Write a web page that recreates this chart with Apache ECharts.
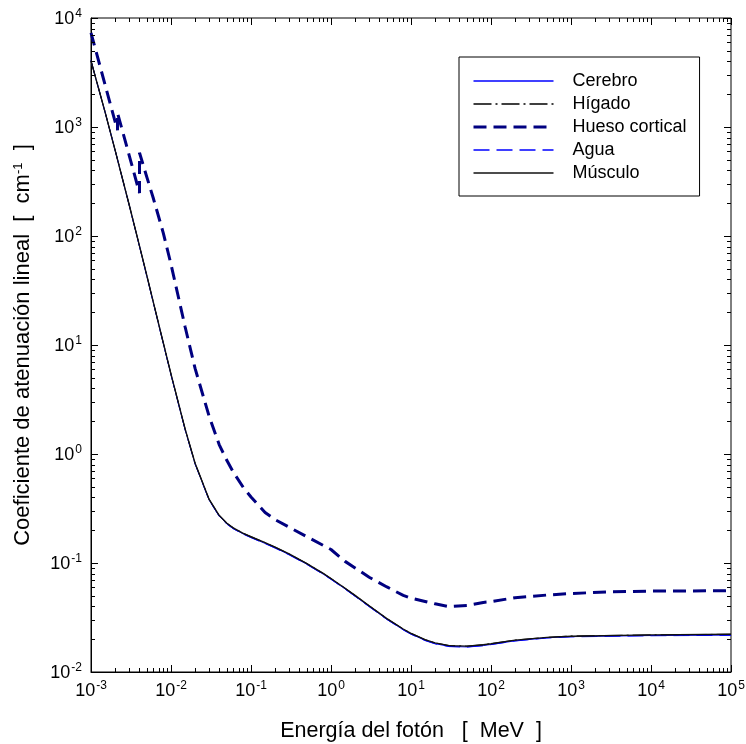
<!DOCTYPE html>
<html><head><meta charset="utf-8">
<script src="https://cdn.jsdelivr.net/npm/echarts@6/dist/echarts.min.js"></script>
<style>html,body{margin:0;padding:0;background:#fff}#c{width:746px;height:744px}</style>
</head><body><div id="c"></div>
<script>
// Photon energy (MeV) for soft tissues
const energiaTejidos = [0.001, 0.0015, 0.002, 0.003, 0.004, 0.005, 0.006, 0.008, 0.01, 0.015, 0.02, 0.03, 0.04, 0.05, 0.06, 0.08, 0.1, 0.15, 0.2, 0.3, 0.5, 0.8, 1, 1.5, 2, 3, 5, 8, 10, 15, 20, 30, 50, 80, 100, 200, 500, 1000, 10000, 100000];
const cerebro = [4010, 1360, 611, 192.0, 82.5, 42.5, 24.6, 10.38, 5.33, 1.675, 0.812, 0.3770, 0.2695, 0.2280, 0.2068, 0.1846, 0.1715, 0.1512, 0.1376, 0.1192, 0.0973, 0.0790, 0.0710, 0.0578, 0.0496, 0.0399, 0.0304, 0.0244, 0.0223, 0.0195, 0.0182, 0.01716, 0.01698, 0.01748, 0.01789, 0.01931, 0.0206, 0.0211, 0.0216, 0.0218];
const higado = [4065, 1372, 616, 194.0, 83.6, 43.2, 25.0, 10.55, 5.42, 1.71, 0.826, 0.3840, 0.2745, 0.2320, 0.2104, 0.1877, 0.1744, 0.1538, 0.1400, 0.1212, 0.0990, 0.0803, 0.0722, 0.0588, 0.0505, 0.0406, 0.0310, 0.0248, 0.0227, 0.0198, 0.0185, 0.01747, 0.01728, 0.01779, 0.01820, 0.01963, 0.0208, 0.0214, 0.0219, 0.0222];
const agua = [4078, 1376, 617.3, 192.9, 82.78, 42.58, 24.64, 10.37, 5.329, 1.673, 0.8096, 0.3756, 0.2683, 0.2269, 0.2059, 0.1837, 0.1707, 0.1505, 0.1370, 0.1186, 0.09687, 0.07865, 0.07072, 0.05754, 0.04942, 0.03969, 0.03031, 0.02429, 0.02219, 0.01941, 0.01813, 0.01710, 0.01692, 0.01742, 0.01783, 0.01925, 0.0205, 0.0210, 0.0215, 0.0217];
const musculo = [4040, 1368, 614, 193.5, 83.3, 43.0, 24.9, 10.5, 5.40, 1.70, 0.823, 0.3830, 0.2740, 0.2315, 0.2100, 0.1874, 0.1741, 0.1535, 0.1397, 0.1210, 0.0988, 0.0802, 0.0721, 0.0587, 0.0504, 0.0405, 0.0309, 0.0248, 0.0226, 0.0198, 0.0185, 0.01745, 0.01726, 0.01777, 0.01818, 0.01960, 0.0208, 0.0213, 0.0219, 0.0222];
// Cortical bone (with P and Ca K-edges)
const energiaHueso = [0.001, 0.0015, 0.002, 0.0021455, 0.0021455, 0.003, 0.004038, 0.004038, 0.005, 0.006, 0.008, 0.01, 0.015, 0.02, 0.03, 0.04, 0.05, 0.06, 0.08, 0.1, 0.15, 0.2, 0.3, 0.5, 1, 1.5, 2, 3, 5, 8, 10, 15, 20, 30, 50, 80, 100, 200, 500, 1000, 3000, 10000, 100000];
const huesoCortical = [7300, 2440, 1120, 935, 1345, 550, 248, 580, 345, 223, 107, 55.0, 14.7, 6.1, 2.21, 1.22, 0.871, 0.683, 0.494, 0.403, 0.291, 0.250, 0.213, 0.174, 0.133, 0.1035, 0.0902, 0.0741, 0.0603, 0.0505, 0.0475, 0.0444, 0.0422, 0.0398, 0.0408, 0.0435, 0.0442, 0.0481, 0.0508, 0.0525, 0.0543, 0.0552, 0.0557];

const leyenda = ['Cerebro', 'Hígado', 'Hueso cortical', 'Agua', 'Músculo'];
const xDecadas = [0.001, 0.01, 0.1, 1, 10, 100, 1000, 10000, 100000];
const yDecadas = [0.01, 0.1, 1, 10, 100, 1000, 10000];
const menores = [2, 3, 4, 5, 6, 7, 8, 9];

const X_MIN = xDecadas[0], X_MAX = xDecadas[xDecadas.length - 1];
const Y_MIN = yDecadas[0], Y_MAX = yDecadas[yDecadas.length - 1];

function pares(xs, ys) { return xs.map((x, i) => [x, ys[i]]); }

// tick data: [x, y, isMajor, axis(0=x,1=y)]
const tickData = [];
xDecadas.forEach((d, i) => {
  tickData.push([d, Y_MIN, 1, 0]);
  if (i < xDecadas.length - 1) menores.forEach(m => tickData.push([d * m, Y_MIN, 0, 0]));
});
yDecadas.forEach((d, i) => {
  tickData.push([X_MIN, d, 1, 1]);
  if (i < yDecadas.length - 1) menores.forEach(m => tickData.push([X_MIN, d * m, 0, 1]));
});

const FONT = "'Liberation Sans', Arial, sans-serif";
const richLbl = {
  b: { fontSize: 18, fontFamily: FONT, color: '#000', lineHeight: 20, verticalAlign: 'bottom' },
  s: { fontSize: 12, fontFamily: FONT, color: '#000', lineHeight: 20, verticalAlign: 'top', padding: [0, 0, 0, 1] }
};
function fmt(v) {
  const e = Math.round(Math.log10(v));
  return '{b|10}{s|' + e + '}';
}

const estilos = {
  'Cerebro': { color: '#0000ff', width: 1, type: 'solid' },
  'Agua': { color: '#0000ff', width: 1, type: [16, 7] },
  'Hueso cortical': { color: '#000080', width: 3, type: [13, 7] },
  'Hígado': { color: '#000000', width: 1, type: [18, 4, 2, 4] },
  'Músculo': { color: '#111111', width: 1.4, type: 'solid' }
};
const anchoLeyenda = { 'Cerebro': 1.5, 'Agua': 1.5, 'Hueso cortical': 3, 'Hígado': 1.5, 'Músculo': 1.6 };

const chart = echarts.init(document.getElementById('c'), null, { renderer: 'canvas' });
chart.setOption({
  animation: false,
  backgroundColor: '#fff',
  grid: { left: 91, right: 15, top: 18, bottom: 72, containLabel: false, outerBoundsMode: 'none',
          show: true, borderColor: '#000', borderWidth: 1, backgroundColor: 'transparent' },
  legend: {
    data: leyenda.map(n => ({ name: n, lineStyle: { width: anchoLeyenda[n], type: estilos[n].type, color: estilos[n].color } })),
    orient: 'vertical', left: 459, top: 57,
    padding: [15, 13, 14, 13], itemGap: 5, itemWidth: 80, itemHeight: 13,
    borderColor: '#000', borderWidth: 1, backgroundColor: '#fff',
    itemStyle: { opacity: 0 },
    textStyle: { fontSize: 18, fontFamily: FONT, color: '#000', padding: [0, 0, 0, 14] },
    selectedMode: false
  },
  xAxis: {
    type: 'log', logBase: 10, min: X_MIN, max: X_MAX,
    name: 'Energía del fotón   [  MeV  ]', nameLocation: 'middle', nameGap: 48,
    nameTextStyle: { fontSize: 21.5, fontFamily: FONT, color: '#000' },
    axisLine: { show: true, lineStyle: { color: '#000', width: 1 } },
    axisTick: { show: false }, minorTick: { show: false },
    splitLine: { show: false },
    axisLabel: { formatter: fmt, rich: richLbl, margin: 8, showMinLabel: true, showMaxLabel: true }
  },
  yAxis: {
    type: 'log', logBase: 10, min: Y_MIN, max: Y_MAX,
    name: 'Coeficiente de atenuación lineal  [  cm{s|-1}  ]', nameLocation: 'middle', nameGap: 57,
    nameTextStyle: { fontSize: 22, fontFamily: FONT, color: '#000',
      rich: { s: { fontSize: 13, fontFamily: FONT, color: '#000', verticalAlign: 'top', lineHeight: 22 } } },
    axisLine: { show: true, lineStyle: { color: '#000', width: 1 } },
    axisTick: { show: false }, minorTick: { show: false },
    splitLine: { show: false },
    axisLabel: { formatter: fmt, rich: richLbl, margin: 9, showMinLabel: true, showMaxLabel: true }
  },
  series: [
    { name: 'Cerebro', type: 'line', data: pares(energiaTejidos, cerebro), symbol: 'none',
      lineStyle: estilos['Cerebro'], itemStyle: { color: '#0000ff' }, z: 2 },
    { name: 'Agua', type: 'line', data: pares(energiaTejidos, agua), symbol: 'none',
      lineStyle: estilos['Agua'], itemStyle: { color: '#0000ff' }, z: 3 },
    { name: 'Hueso cortical', type: 'line', data: pares(energiaHueso, huesoCortical), symbol: 'none',
      lineStyle: estilos['Hueso cortical'], itemStyle: { color: '#000080' }, z: 4 },
    { name: 'Hígado', type: 'line', data: pares(energiaTejidos, higado), symbol: 'none',
      lineStyle: estilos['Hígado'], itemStyle: { color: '#000' }, z: 5 },
    { name: 'Músculo', type: 'line', data: pares(energiaTejidos, musculo), symbol: 'none',
      lineStyle: estilos['Músculo'], itemStyle: { color: '#111' }, z: 6 },
    { name: 'ticks', type: 'custom', data: tickData, clip: false, silent: true, z: 10,
      renderItem: function (params, api) {
        const v0 = api.value(0), v1 = api.value(1), major = api.value(2), ax = api.value(3);
        const len = major ? 7 : 4;
        const st = { stroke: '#000', lineWidth: 1 };
        if (ax === 0) {
          const b = api.coord([v0, Y_MIN]), t = api.coord([v0, Y_MAX]);
          const x = Math.round(b[0]) + 0.5;
          return { type: 'group', children: [
            { type: 'line', shape: { x1: x, y1: b[1], x2: x, y2: b[1] - len }, style: st },
            { type: 'line', shape: { x1: x, y1: t[1], x2: x, y2: t[1] + len }, style: st } ] };
        } else {
          const l = api.coord([X_MIN, v1]), r = api.coord([X_MAX, v1]);
          const y = Math.round(l[1]) + 0.5;
          return { type: 'group', children: [
            { type: 'line', shape: { x1: l[0], y1: y, x2: l[0] + len, y2: y }, style: st },
            { type: 'line', shape: { x1: r[0], y1: y, x2: r[0] - len, y2: y }, style: st } ] };
        }
      }
    }
  ]
});
</script>
</body></html>
